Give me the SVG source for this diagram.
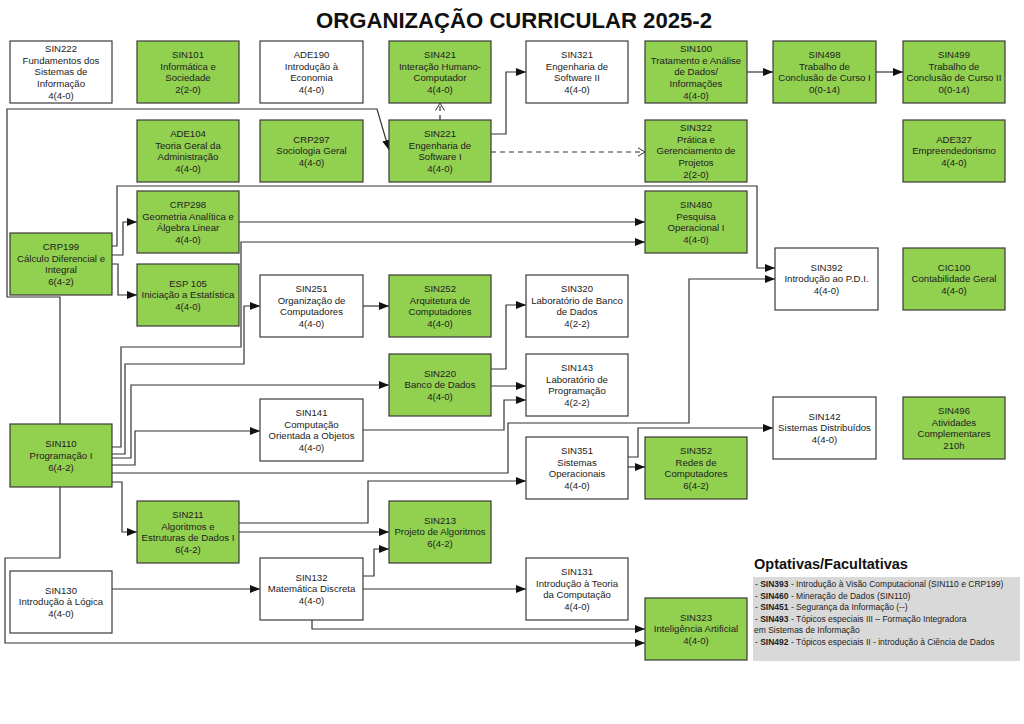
<svg xmlns="http://www.w3.org/2000/svg" width="1024" height="724" viewBox="0 0 1024 724">
<style>
.b{stroke:#3a3a3a;stroke-width:1.2}
.g{fill:#92d050}
.w{fill:#ffffff}
.t{font-family:"Liberation Sans",Arial,sans-serif;font-size:9.6px;fill:#222;text-anchor:middle}
.c{fill:none;stroke:#333;stroke-width:1.2}
.d{stroke-dasharray:5,4}
.o{font-family:"Liberation Sans",Arial,sans-serif;font-size:8.5px;fill:#222}
</style>
<defs>
<marker id="arr" viewBox="0 0 10 8" refX="10" refY="4" markerWidth="10" markerHeight="8" markerUnits="userSpaceOnUse" orient="auto"><path d="M0,0 L10,4 L0,8 z" fill="#111"/></marker>
<marker id="oarr" viewBox="0 0 8 10" refX="7.5" refY="5" markerWidth="8" markerHeight="10" markerUnits="userSpaceOnUse" orient="auto"><path d="M0,0.5 L7.5,5 L0,9.5" fill="none" stroke="#333" stroke-width="1"/></marker>
</defs>
<rect width="1024" height="724" fill="#ffffff"/>
<text x="514" y="28" font-family="'Liberation Sans Narrow','Liberation Sans',Arial,sans-serif" font-weight="bold" font-size="22" text-anchor="middle" textLength="396" lengthAdjust="spacingAndGlyphs" fill="#111">ORGANIZAÇÃO CURRICULAR 2025-2</text>

<g id="connectors">
<path class="c" marker-end="url(#arr)" d="M60,424 V297 H7 V109 H377 L389,150"/>
<path class="c" marker-end="url(#arr)" d="M60,487 V558 H5 V643 H645"/>
<path class="c" marker-end="url(#arr)" d="M112,255 H123 V222 H137"/>
<path class="c" marker-end="url(#arr)" d="M112,264 H118 V295 H137"/>
<path class="c" marker-end="url(#arr)" d="M112,246 H117 V186 H757 V268 H775"/>
<path class="c" marker-end="url(#arr)" d="M239,222 H645"/>
<path class="c" marker-end="url(#arr)" d="M112,447 H121 V347 H241 V242 H645"/>
<path class="c" marker-end="url(#arr)" d="M112,454 H125 V364 H244 V306 H260"/>
<path class="c" marker-end="url(#arr)" d="M112,458 H131 V385 H389"/>
<path class="c" marker-end="url(#arr)" d="M112,465 H135 V431 H260"/>
<path class="c" marker-end="url(#arr)" d="M112,473 H508 V423 H689 V279 H775"/>
<path class="c" marker-end="url(#arr)" d="M112,482 H122 V532 H137"/>
<path class="c" marker-end="url(#arr)" d="M363,306 H389"/>
<path class="c" marker-end="url(#arr)" d="M491,369 H506 V305 H526"/>
<path class="c" marker-end="url(#arr)" d="M491,386 H526"/>
<path class="c" marker-end="url(#arr)" d="M363,430 H504 V400 H526"/>
<path class="c" marker-end="url(#arr)" d="M239,523 H368 V481 H526"/>
<path class="c" marker-end="url(#arr)" d="M628,467 H645"/>
<path class="c" marker-end="url(#arr)" d="M628,457 H638 V428 H773"/>
<path class="c" marker-end="url(#arr)" d="M239,532 H389"/>
<path class="c" marker-end="url(#arr)" d="M363,576 H374 V549 H389"/>
<path class="c" marker-end="url(#arr)" d="M112,589 H260"/>
<path class="c" marker-end="url(#arr)" d="M363,589 H526"/>
<path class="c" marker-end="url(#arr)" d="M312,620 V629 H645"/>
<path class="c d" marker-end="url(#oarr)" d="M440,120 V103"/>
<path class="c" marker-end="url(#arr)" d="M491,134 H506 V72 H526"/>
<path class="c d" marker-end="url(#oarr)" d="M491,152 H645"/>
<path class="c" marker-end="url(#arr)" d="M747,72 H773"/>
<path class="c" marker-end="url(#arr)" d="M876,72 H903"/>
</g>

<g id="SIN222"><rect class="b w" x="10" y="41" width="102" height="62"/><text class="t" y="52.2"><tspan x="61">SIN222</tspan><tspan x="61" dy="11.6">Fundamentos dos</tspan><tspan x="61" dy="11.6">Sistemas de</tspan><tspan x="61" dy="11.6">Informação</tspan><tspan x="61" dy="11.6">4(4-0)</tspan></text></g>
<g id="SIN101"><rect class="b g" x="137" y="41" width="102" height="62"/><text class="t" y="58"><tspan x="188">SIN101</tspan><tspan x="188" dy="11.6">Informática e</tspan><tspan x="188" dy="11.6">Sociedade</tspan><tspan x="188" dy="11.6">2(2-0)</tspan></text></g>
<g id="ADE190"><rect class="b w" x="260" y="41" width="103" height="62"/><text class="t" y="58"><tspan x="311.5">ADE190</tspan><tspan x="311.5" dy="11.6">Introdução à</tspan><tspan x="311.5" dy="11.6">Economia</tspan><tspan x="311.5" dy="11.6">4(4-0)</tspan></text></g>
<g id="SIN421"><rect class="b g" x="389" y="41" width="102" height="62"/><text class="t" y="58"><tspan x="440">SIN421</tspan><tspan x="440" dy="11.6">Interação Humano-</tspan><tspan x="440" dy="11.6">Computador</tspan><tspan x="440" dy="11.6">4(4-0)</tspan></text></g>
<g id="SIN321"><rect class="b w" x="526" y="41" width="102" height="62"/><text class="t" y="58"><tspan x="577">SIN321</tspan><tspan x="577" dy="11.6">Engenharia de</tspan><tspan x="577" dy="11.6">Software II</tspan><tspan x="577" dy="11.6">4(4-0)</tspan></text></g>
<g id="SIN100"><rect class="b g" x="645" y="41" width="102" height="62"/><text class="t" y="52.2"><tspan x="696">SIN100</tspan><tspan x="696" dy="11.6">Tratamento e Análise</tspan><tspan x="696" dy="11.6">de Dados/</tspan><tspan x="696" dy="11.6">Informações</tspan><tspan x="696" dy="11.6">4(4-0)</tspan></text></g>
<g id="SIN498"><rect class="b g" x="773" y="41" width="103" height="62"/><text class="t" y="58"><tspan x="824.5">SIN498</tspan><tspan x="824.5" dy="11.6">Trabalho de</tspan><tspan x="824.5" dy="11.6">Conclusão de Curso I</tspan><tspan x="824.5" dy="11.6">0(0-14)</tspan></text></g>
<g id="SIN499"><rect class="b g" x="903" y="41" width="102" height="62"/><text class="t" y="58"><tspan x="954">SIN499</tspan><tspan x="954" dy="11.6">Trabalho de</tspan><tspan x="954" dy="11.6">Conclusão de Curso II</tspan><tspan x="954" dy="11.6">0(0-14)</tspan></text></g>

<g id="ADE104"><rect class="b g" x="137" y="120" width="102" height="62"/><text class="t" y="137"><tspan x="188">ADE104</tspan><tspan x="188" dy="11.6">Teoria Geral da</tspan><tspan x="188" dy="11.6">Administração</tspan><tspan x="188" dy="11.6">4(4-0)</tspan></text></g>
<g id="CRP297"><rect class="b g" x="260" y="120" width="103" height="62"/><text class="t" y="142.8"><tspan x="311.5">CRP297</tspan><tspan x="311.5" dy="11.6">Sociologia Geral</tspan><tspan x="311.5" dy="11.6">4(4-0)</tspan></text></g>
<g id="SIN221"><rect class="b g" x="389" y="120" width="102" height="62"/><text class="t" y="137"><tspan x="440">SIN221</tspan><tspan x="440" dy="11.6">Engenharia de</tspan><tspan x="440" dy="11.6">Software I</tspan><tspan x="440" dy="11.6">4(4-0)</tspan></text></g>
<g id="SIN322"><rect class="b g" x="645" y="120" width="102" height="62"/><text class="t" y="131.2"><tspan x="696">SIN322</tspan><tspan x="696" dy="11.6">Prática e</tspan><tspan x="696" dy="11.6">Gerenciamento de</tspan><tspan x="696" dy="11.6">Projetos</tspan><tspan x="696" dy="11.6">2(2-0)</tspan></text></g>
<g id="ADE327"><rect class="b g" x="903" y="120" width="102" height="62"/><text class="t" y="142.8"><tspan x="954">ADE327</tspan><tspan x="954" dy="11.6">Empreendedorismo</tspan><tspan x="954" dy="11.6">4(4-0)</tspan></text></g>

<g id="CRP298"><rect class="b g" x="137" y="191" width="102" height="62"/><text class="t" y="208"><tspan x="188">CRP298</tspan><tspan x="188" dy="11.6">Geometria Analítica e</tspan><tspan x="188" dy="11.6">Álgebra Linear</tspan><tspan x="188" dy="11.6">4(4-0)</tspan></text></g>
<g id="SIN480"><rect class="b g" x="645" y="191" width="102" height="62"/><text class="t" y="208"><tspan x="696">SIN480</tspan><tspan x="696" dy="11.6">Pesquisa</tspan><tspan x="696" dy="11.6">Operacional I</tspan><tspan x="696" dy="11.6">4(4-0)</tspan></text></g>
<g id="CRP199"><rect class="b g" x="10" y="233" width="102" height="62"/><text class="t" y="250"><tspan x="61">CRP199</tspan><tspan x="61" dy="11.6">Cálculo Diferencial e</tspan><tspan x="61" dy="11.6">Integral</tspan><tspan x="61" dy="11.6">6(4-2)</tspan></text></g>
<g id="ESP105"><rect class="b g" x="137" y="264" width="102" height="62"/><text class="t" y="286.8"><tspan x="188">ESP 105</tspan><tspan x="188" dy="11.6">Iniciação a Estatística</tspan><tspan x="188" dy="11.6">4(4-0)</tspan></text></g>
<g id="SIN392"><rect class="b w" x="775" y="248" width="103" height="62"/><text class="t" y="270.8"><tspan x="826.5">SIN392</tspan><tspan x="826.5" dy="11.6">Introdução ao P.D.I.</tspan><tspan x="826.5" dy="11.6">4(4-0)</tspan></text></g>
<g id="CIC100"><rect class="b g" x="903" y="248" width="102" height="62"/><text class="t" y="270.8"><tspan x="954">CIC100</tspan><tspan x="954" dy="11.6">Contabilidade Geral</tspan><tspan x="954" dy="11.6">4(4-0)</tspan></text></g>

<g id="SIN251"><rect class="b w" x="260" y="275" width="103" height="62"/><text class="t" y="292"><tspan x="311.5">SIN251</tspan><tspan x="311.5" dy="11.6">Organização de</tspan><tspan x="311.5" dy="11.6">Computadores</tspan><tspan x="311.5" dy="11.6">4(4-0)</tspan></text></g>
<g id="SIN252"><rect class="b g" x="389" y="275" width="102" height="62"/><text class="t" y="292"><tspan x="440">SIN252</tspan><tspan x="440" dy="11.6">Arquitetura de</tspan><tspan x="440" dy="11.6">Computadores</tspan><tspan x="440" dy="11.6">4(4-0)</tspan></text></g>
<g id="SIN320"><rect class="b w" x="526" y="275" width="102" height="62"/><text class="t" y="292"><tspan x="577">SIN320</tspan><tspan x="577" dy="11.6">Laboratório de Banco</tspan><tspan x="577" dy="11.6">de Dados</tspan><tspan x="577" dy="11.6">4(2-2)</tspan></text></g>
<g id="SIN220"><rect class="b g" x="389" y="354" width="102" height="62"/><text class="t" y="376.8"><tspan x="440">SIN220</tspan><tspan x="440" dy="11.6">Banco de Dados</tspan><tspan x="440" dy="11.6">4(4-0)</tspan></text></g>
<g id="SIN143"><rect class="b w" x="526" y="354" width="102" height="62"/><text class="t" y="371"><tspan x="577">SIN143</tspan><tspan x="577" dy="11.6">Laboratório de</tspan><tspan x="577" dy="11.6">Programação</tspan><tspan x="577" dy="11.6">4(2-2)</tspan></text></g>
<g id="SIN141"><rect class="b w" x="260" y="399" width="103" height="62"/><text class="t" y="416"><tspan x="311.5">SIN141</tspan><tspan x="311.5" dy="11.6">Computação</tspan><tspan x="311.5" dy="11.6">Orientada a Objetos</tspan><tspan x="311.5" dy="11.6">4(4-0)</tspan></text></g>
<g id="SIN142"><rect class="b w" x="773" y="397" width="103" height="62"/><text class="t" y="419.8"><tspan x="824.5">SIN142</tspan><tspan x="824.5" dy="11.6">Sistemas Distribuídos</tspan><tspan x="824.5" dy="11.6">4(4-0)</tspan></text></g>
<g id="SIN496"><rect class="b g" x="903" y="397" width="102" height="62"/><text class="t" y="414"><tspan x="954">SIN496</tspan><tspan x="954" dy="11.6">Atividades</tspan><tspan x="954" dy="11.6">Complementares</tspan><tspan x="954" dy="11.6">210h</tspan></text></g>
<g id="SIN110"><rect class="b g" x="10" y="424" width="102" height="63"/><text class="t" y="447.3"><tspan x="61">SIN110</tspan><tspan x="61" dy="11.6">Programação I</tspan><tspan x="61" dy="11.6">6(4-2)</tspan></text></g>
<g id="SIN351"><rect class="b w" x="526" y="437" width="102" height="62"/><text class="t" y="454"><tspan x="577">SIN351</tspan><tspan x="577" dy="11.6">Sistemas</tspan><tspan x="577" dy="11.6">Operacionais</tspan><tspan x="577" dy="11.6">4(4-0)</tspan></text></g>
<g id="SIN352"><rect class="b g" x="645" y="437" width="102" height="62"/><text class="t" y="454"><tspan x="696">SIN352</tspan><tspan x="696" dy="11.6">Redes de</tspan><tspan x="696" dy="11.6">Computadores</tspan><tspan x="696" dy="11.6">6(4-2)</tspan></text></g>
<g id="SIN211"><rect class="b g" x="137" y="501" width="102" height="62"/><text class="t" y="518"><tspan x="188">SIN211</tspan><tspan x="188" dy="11.6">Algoritmos e</tspan><tspan x="188" dy="11.6">Estruturas de Dados I</tspan><tspan x="188" dy="11.6">6(4-2)</tspan></text></g>
<g id="SIN213"><rect class="b g" x="389" y="501" width="102" height="62"/><text class="t" y="523.8"><tspan x="440">SIN213</tspan><tspan x="440" dy="11.6">Projeto de Algoritmos</tspan><tspan x="440" dy="11.6">6(4-2)</tspan></text></g>
<g id="SIN130"><rect class="b w" x="10" y="571" width="102" height="62"/><text class="t" y="593.8"><tspan x="61">SIN130</tspan><tspan x="61" dy="11.6">Introdução à Lógica</tspan><tspan x="61" dy="11.6">4(4-0)</tspan></text></g>
<g id="SIN132"><rect class="b w" x="260" y="558" width="103" height="62"/><text class="t" y="580.8"><tspan x="311.5">SIN132</tspan><tspan x="311.5" dy="11.6">Matemática Discreta</tspan><tspan x="311.5" dy="11.6">4(4-0)</tspan></text></g>
<g id="SIN131"><rect class="b w" x="526" y="558" width="102" height="62"/><text class="t" y="575"><tspan x="577">SIN131</tspan><tspan x="577" dy="11.6">Introdução à Teoria</tspan><tspan x="577" dy="11.6">da Computação</tspan><tspan x="577" dy="11.6">4(4-0)</tspan></text></g>
<g id="SIN323"><rect class="b g" x="645" y="598" width="102" height="62"/><text class="t" y="620.8"><tspan x="696">SIN323</tspan><tspan x="696" dy="11.6">Inteligência Artificial</tspan><tspan x="696" dy="11.6">4(4-0)</tspan></text></g>

<g id="optativas">
<text x="754" y="569" font-family="'Liberation Sans',Arial,sans-serif" font-weight="bold" font-size="14.5" fill="#111">Optativas/Facultativas</text>
<rect x="753" y="577" width="267" height="84" fill="#d9d9d9"/>
<text class="o" x="755" y="587">- <tspan font-weight="bold">SIN393</tspan> - Introdução à Visão Computacional (SIN110 e CRP199)</text>
<text class="o" x="755" y="598.5">- <tspan font-weight="bold">SIN460</tspan> - Mineração de Dados (SIN110)</text>
<text class="o" x="755" y="610">- <tspan font-weight="bold">SIN451</tspan> - Segurança da Informação (--)</text>
<text class="o" x="755" y="621.5">- <tspan font-weight="bold">SIN493</tspan> - Tópicos especiais III – Formação Integradora</text>
<text class="o" x="754" y="633">em Sistemas de Informação</text>
<text class="o" x="755" y="644.5">- <tspan font-weight="bold">SIN492</tspan> - Tópicos especiais II - introdução à Ciência de Dados</text>
</g>
</svg>
